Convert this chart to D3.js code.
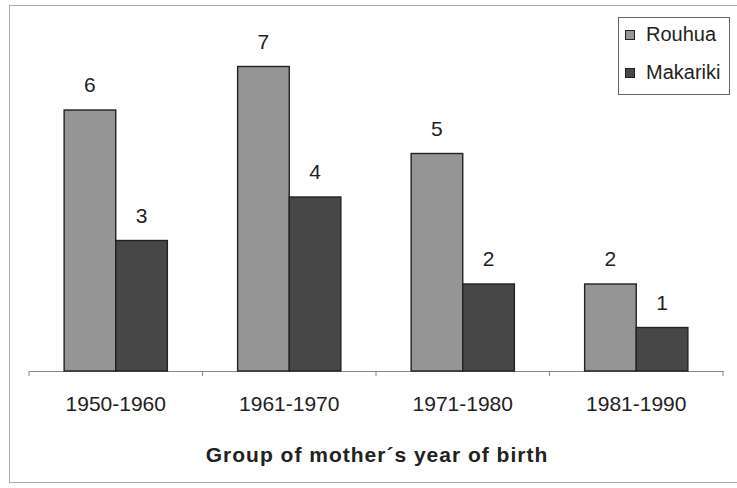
<!DOCTYPE html>
<html>
<head>
<meta charset="utf-8">
<script src="https://cdn.jsdelivr.net/npm/d3@7"></script>
<style>
  body { margin: 0; background: #fff; }
  text { font-family: "Liberation Sans", Arial, sans-serif; fill: #222; }
</style>
</head>
<body>
<script>
// data
var groups = ["1950-1960", "1961-1970", "1971-1980", "1981-1990"];
var seriesNames = ["Rouhua", "Makariki"];
var rouhua = [6, 7, 5, 2];
var makariki = [3, 4, 2, 1];
var colors = ["#959595", "#474747"];
var xTitle = "Group of mother\u00b4s year of birth";

var W = 737, H = 488;
var svg = d3.select("body").append("svg")
    .attr("width", W)
    .attr("height", H);

// outer frame
svg.append("rect")
    .attr("x", 9.5).attr("y", 5.5)
    .attr("width", 740).attr("height", 477)
    .attr("fill", "none")
    .attr("stroke", "#aaa");

var x0 = d3.scaleBand()
  .domain(groups)
  .range([29, 723])
  .paddingInner(0.405)
  .paddingOuter(0.2025);

var x1 = d3.scaleBand()
  .domain(seriesNames)
  .range([0, x0.bandwidth()]);

var y = d3.scaleLinear()
  .domain([0, 8])
  .range([371, 23]);

var rows = groups.map(function(g, i) {
  return { group: g, values: [rouhua[i], makariki[i]] };
});

// x axis
var axis = svg.append("g")
  .attr("transform", "translate(0," + y(0) + ")")
  .call(d3.axisBottom(x0).tickSize(0).tickPadding(25));
axis.select(".domain").attr("stroke", "#888");
axis.selectAll("text")
  .style("font-size", "21px")
  .style("font-family", "Liberation Sans, Arial, sans-serif")
  .attr("fill", "#222");

// ticks between categories
var tickPos = d3.range(groups.length + 1).map(function(i) { return 29 + i * (694 / groups.length); });
svg.selectAll("line.sep")
  .data(tickPos)
  .enter().append("line")
    .attr("x1", function(d) { return d; })
    .attr("x2", function(d) { return d; })
    .attr("y1", y(0))
    .attr("y2", y(0) + 5)
    .attr("stroke", "#888");

var grp = svg.selectAll("g.grp")
  .data(rows)
  .enter().append("g")
    .attr("transform", function(d) { return "translate(" + x0(d.group) + ",0)"; });

grp.selectAll("rect")
  .data(function(d) { return d.values.map(function(v, j) { return { s: seriesNames[j], v: v, j: j }; }); })
  .enter().append("rect")
    .attr("x", function(d) { return x1(d.s); })
    .attr("y", function(d) { return y(d.v); })
    .attr("width", x1.bandwidth())
    .attr("height", function(d) { return y(0) - y(d.v); })
    .attr("fill", function(d) { return colors[d.j]; })
    .attr("stroke", "#222")
    .attr("stroke-width", 1.4);

grp.selectAll("text.val")
  .data(function(d) { return d.values.map(function(v, j) { return { s: seriesNames[j], v: v }; }); })
  .enter().append("text")
    .attr("class", "val")
    .attr("x", function(d) { return x1(d.s) + x1.bandwidth() / 2; })
    .attr("y", function(d) { return y(d.v) - 18; })
    .attr("text-anchor", "middle")
    .style("font-size", "21px")
    .text(function(d) { return d.v; });

// axis title
svg.append("text")
  .attr("x", 377)
  .attr("y", 462)
  .attr("text-anchor", "middle")
  .style("font-size", "21px")
  .style("font-weight", "bold")
  .style("letter-spacing", "1px")
  .text(xTitle);

// legend
var lg = svg.append("g");
lg.append("rect")
  .attr("x", 618.5).attr("y", 17.5)
  .attr("width", 111).attr("height", 77)
  .attr("fill", "#fff")
  .attr("stroke", "#666");
seriesNames.forEach(function(n, i) {
  lg.append("rect")
    .attr("x", 625.5).attr("y", 30.5 + i * 38)
    .attr("width", 9).attr("height", 9)
    .attr("fill", colors[i])
    .attr("stroke", "#222");
  lg.append("text")
    .attr("x", 646)
    .attr("y", 41 + i * 38)
    .style("font-size", "20px")
    .text(n);
});
</script>
</body>
</html>
